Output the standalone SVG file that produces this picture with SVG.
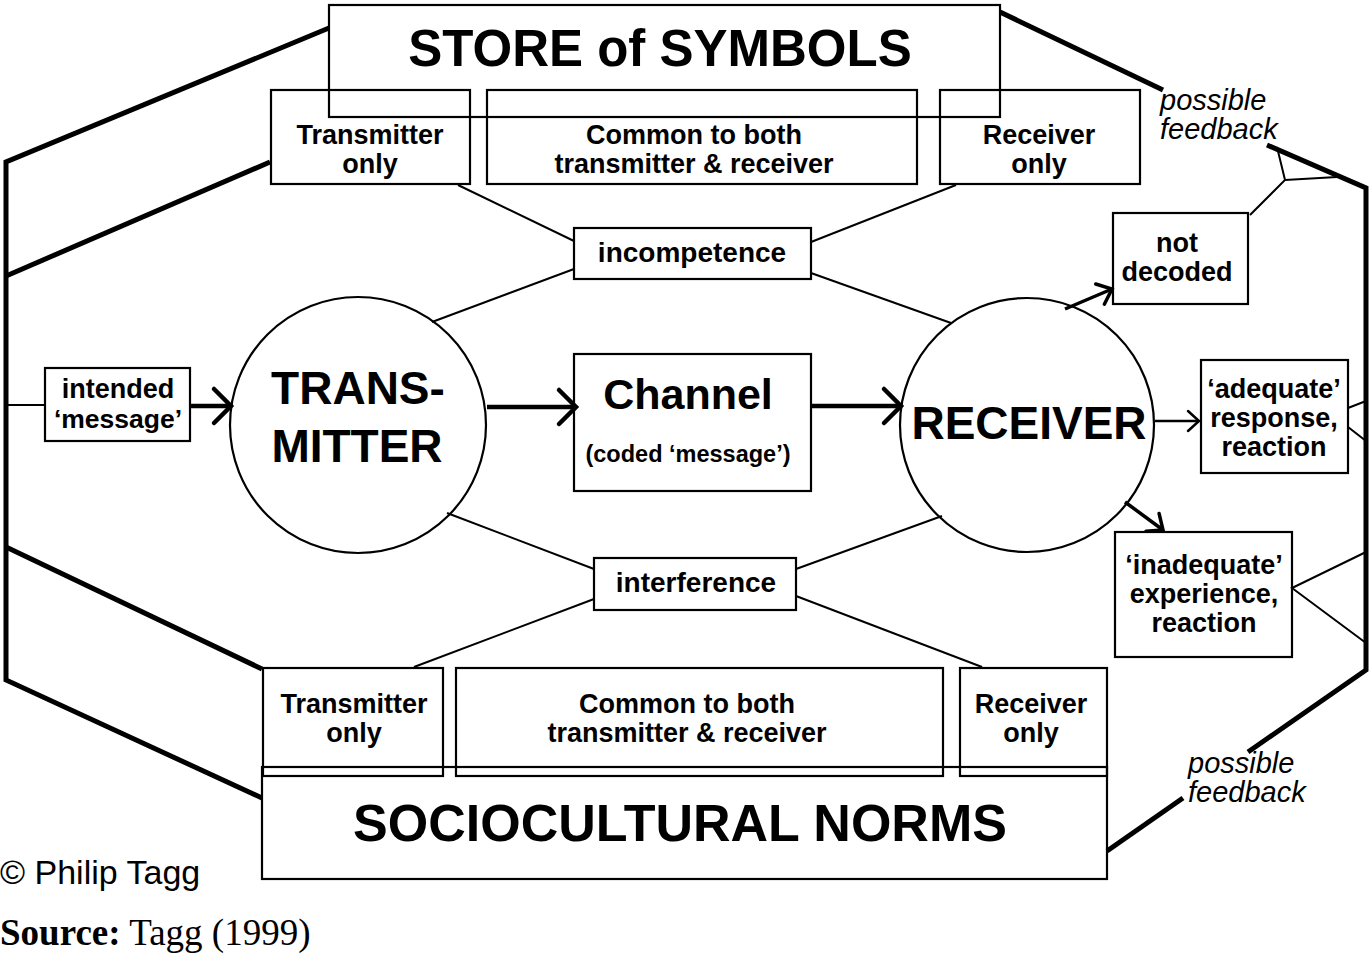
<svg xmlns="http://www.w3.org/2000/svg" width="1371" height="954" viewBox="0 0 1371 954">
<style>
.box{fill:none;stroke:#000;stroke-width:2.2}
.frame{fill:none;stroke:#000;stroke-width:5;stroke-linejoin:miter}
.thin{fill:none;stroke:#000;stroke-width:2}
.arrow{fill:none;stroke:#000;stroke-width:4.5}
.arrowm{fill:none;stroke:#000;stroke-width:3.5}
.arrowt{fill:none;stroke:#000;stroke-width:2.5}
text{font-family:"Liberation Sans",Arial,sans-serif;fill:#000;text-anchor:middle}
.b27{font-weight:bold;font-size:27px}
.b28{font-weight:bold;font-size:28px}
.b46{font-weight:bold;font-size:46px}
.b51{font-weight:bold;font-size:51px}
.fb{font-style:italic;font-size:29px;text-anchor:start}
</style>
<defs>
<marker id="chevBig" markerUnits="userSpaceOnUse" viewBox="-24 -22 30 44" markerWidth="30" markerHeight="44" refX="0" refY="0" orient="auto">
<path d="M-17,-17 L0,0 L-17,17" fill="none" stroke="#000" stroke-width="4.5" stroke-linecap="round"/>
</marker>
<marker id="chevMid" markerUnits="userSpaceOnUse" viewBox="-20 -18 26 36" markerWidth="26" markerHeight="36" refX="0" refY="0" orient="auto">
<path d="M-13,-11 L0,0 L-13,11" fill="none" stroke="#000" stroke-width="3.5" stroke-linecap="round"/>
</marker>
<marker id="chevThin" markerUnits="userSpaceOnUse" viewBox="-18 -16 22 32" markerWidth="22" markerHeight="32" refX="0" refY="0" orient="auto">
<path d="M-11,-10 L0,0 L-11,10" fill="none" stroke="#000" stroke-width="2.5" stroke-linecap="round"/>
</marker>
</defs>

<g id="connectors">
<polyline class="frame" points="329,28 6,162 6,680 262,798"/>
<line class="frame" x1="270" y1="162" x2="6" y2="276"/>
<line class="frame" x1="6" y1="547" x2="262" y2="669"/>
<line class="frame" x1="1000" y1="12" x2="1163" y2="90"/>
<polyline class="frame" points="1267,145 1366,188 1366,670 1248,752"/>
<line class="frame" x1="1183" y1="798" x2="1107" y2="851"/>
<polyline class="thin" points="1250,215 1285,180 1277,147"/>
<line class="thin" x1="1285" y1="180" x2="1337" y2="177"/>
<line class="thin" x1="1348" y1="408" x2="1366" y2="401"/>
<line class="thin" x1="1348" y1="427" x2="1366" y2="441"/>
<polyline class="thin" points="1366,552 1292,588 1366,643"/>
<line class="thin" x1="6" y1="405" x2="45" y2="405"/>
<line class="thin" x1="458" y1="185" x2="574" y2="241"/>
<line class="thin" x1="811" y1="242" x2="956" y2="185"/>
<line class="thin" x1="574" y1="269" x2="432" y2="322"/>
<line class="thin" x1="811" y1="273" x2="951" y2="323"/>
<line class="thin" x1="447" y1="513" x2="594" y2="569"/>
<line class="thin" x1="796" y1="569" x2="942" y2="516"/>
<line class="thin" x1="594" y1="599" x2="414" y2="667"/>
<line class="thin" x1="796" y1="596" x2="982" y2="667"/>
<line class="arrow" x1="190" y1="406" x2="231" y2="406" marker-end="url(#chevBig)"/>
<line class="arrow" x1="487" y1="407" x2="576" y2="407" marker-end="url(#chevBig)"/>
<line class="arrow" x1="811" y1="406" x2="901" y2="406" marker-end="url(#chevBig)"/>
<line class="arrowt" x1="1155" y1="421" x2="1199" y2="421" marker-end="url(#chevThin)"/>
<line class="arrowm" x1="1065" y1="309" x2="1112" y2="289" marker-end="url(#chevMid)"/>
<line class="arrowm" x1="1125" y1="502" x2="1163" y2="530" marker-end="url(#chevMid)"/>
</g>

<g id="store">
<rect class="box" x="329" y="5" width="671" height="112"/>
<text class="b51" x="660" y="66">STORE of SYMBOLS</text>
</g>
<g id="top-transmitter-only">
<rect class="box" x="271" y="90" width="199" height="94"/>
<text class="b27" x="370" y="144">Transmitter</text>
<text class="b27" x="370" y="173">only</text>
</g>
<g id="top-common">
<rect class="box" x="487" y="90" width="430" height="94"/>
<text class="b27" x="694" y="144">Common to both</text>
<text class="b27" x="694" y="173">transmitter &amp; receiver</text>
</g>
<g id="top-receiver-only">
<rect class="box" x="940" y="90" width="200" height="94"/>
<text class="b27" x="1039" y="144">Receiver</text>
<text class="b27" x="1039" y="173">only</text>
</g>
<g id="feedback-top">
<text class="fb" x="1160" y="110">possible</text>
<text class="fb" x="1160" y="139">feedback</text>
</g>
<g id="incompetence">
<rect class="box" x="574" y="228" width="237" height="51"/>
<text class="b28" x="692" y="262">incompetence</text>
</g>
<g id="not-decoded">
<rect class="box" x="1113" y="213" width="135" height="91"/>
<text class="b27" x="1177" y="252">not</text>
<text class="b27" x="1177" y="281">decoded</text>
</g>
<g id="intended">
<rect class="box" x="45" y="368" width="145" height="73"/>
<text class="b27" x="118" y="398">intended</text>
<text class="b27" x="118" y="428" style="font-size:26.5px">‘message’</text>
</g>
<g id="transmitter">
<circle class="box" cx="358" cy="425" r="128"/>
<text class="b46" x="358" y="404">TRANS-</text>
<text class="b46" x="357" y="462">MITTER</text>
</g>
<g id="channel">
<rect class="box" x="574" y="354" width="237" height="137"/>
<text class="b46" x="688" y="409" style="font-size:43px">Channel</text>
<text class="b27" x="688" y="462" style="font-size:23.5px">(coded ‘message’)</text>
</g>
<g id="receiver">
<circle class="box" cx="1027" cy="425" r="127"/>
<text class="b46" x="1029" y="439">RECEIVER</text>
</g>
<g id="adequate">
<rect class="box" x="1201" y="360" width="147" height="113"/>
<text class="b27" x="1274" y="398">‘adequate’</text>
<text class="b27" x="1274" y="427">response,</text>
<text class="b27" x="1274" y="456">reaction</text>
</g>
<g id="inadequate">
<rect class="box" x="1115" y="532" width="177" height="125"/>
<text class="b27" x="1204" y="574">‘inadequate’</text>
<text class="b27" x="1204" y="603">experience,</text>
<text class="b27" x="1204" y="632">reaction</text>
</g>
<g id="interference">
<rect class="box" x="594" y="558" width="202" height="52"/>
<text class="b28" x="696" y="592">interference</text>
</g>
<g id="bottom-transmitter-only">
<rect class="box" x="263" y="668" width="180" height="108"/>
<text class="b27" x="354" y="713">Transmitter</text>
<text class="b27" x="354" y="742">only</text>
</g>
<g id="bottom-common">
<rect class="box" x="456" y="668" width="487" height="108"/>
<text class="b27" x="687" y="713">Common to both</text>
<text class="b27" x="687" y="742">transmitter &amp; receiver</text>
</g>
<g id="bottom-receiver-only">
<rect class="box" x="960" y="668" width="147" height="108"/>
<text class="b27" x="1031" y="713">Receiver</text>
<text class="b27" x="1031" y="742">only</text>
</g>
<g id="sociocultural">
<rect class="box" x="262" y="767" width="845" height="112"/>
<text class="b51" x="680" y="841" style="font-size:52px">SOCIOCULTURAL NORMS</text>
</g>
<g id="feedback-bottom">
<text class="fb" x="1188" y="773">possible</text>
<text class="fb" x="1188" y="802">feedback</text>
</g>
<g id="credits">
<text x="0" y="884" style="font-size:34px;text-anchor:start">© Philip Tagg</text>
<text x="0" y="945" style="font-family:'Liberation Serif','Times New Roman',serif;font-size:37px;text-anchor:start"><tspan font-weight="bold">Source:</tspan> Tagg (1999)</text>
</g>
</svg>
